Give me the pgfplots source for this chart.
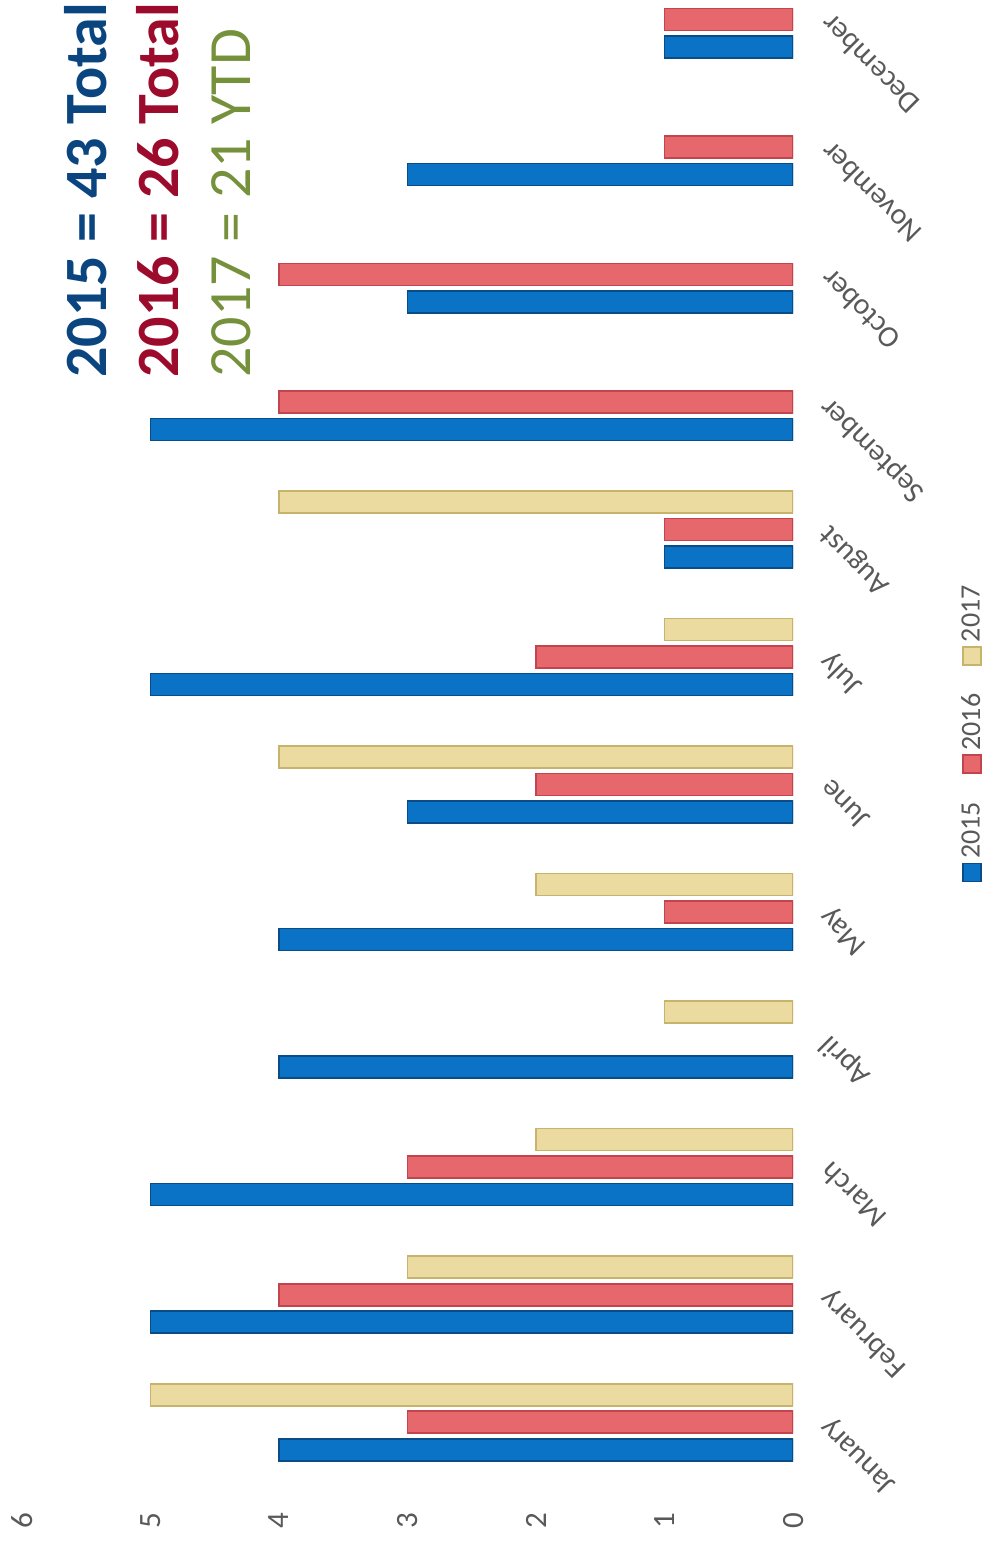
\documentclass[border=0pt]{standalone}
\usepackage{fontspec}
\setmainfont{Carlito}
\usepackage{pgfplots}
\pgfplotsset{compat=1.18}
\definecolor{c15}{HTML}{0B73C6}
\definecolor{c15e}{HTML}{0A4C88}
\definecolor{c16}{HTML}{E7686C}
\definecolor{c16e}{HTML}{C2444C}
\definecolor{c17}{HTML}{EBDBA1}
\definecolor{c17e}{HTML}{C8B36C}
\definecolor{t15}{HTML}{0B4580}
\definecolor{t16}{HTML}{9C0A2C}
\definecolor{t17}{HTML}{76913C}
\definecolor{lab}{HTML}{595959}
\begin{document}
\begin{tikzpicture}
\begin{axis}[
 xbar, scale only axis, width=385.5pt, height=742.9pt,
 x dir=reverse, xmin=0, xmax=6, ymin=-0.5, ymax=11.153,
 axis line style={draw=none}, major tick length=0pt,
 xtick={0,1,2,3,4,5,6},
 ytick={0,1,2,3,4,5,6,7,8,9,10,11},
 yticklabels={January,February,March,April,May,June,July,August,September,October,November,December},
 yticklabel pos=right,
 yticklabel style={xshift=16pt, rotate=135, anchor=east, inner sep=0pt, font=\fontsize{15}{17}\selectfont, text=lab},
 xticklabel style={yshift=-13pt, rotate=90, anchor=east, inner sep=0pt, font=\fontsize{15.5}{17}\selectfont, text=lab},
 /pgf/number format/assume math mode=true,
 bar width=11pt,
 legend columns=3,
 legend to name=yearlegend,
 legend style={draw=none, fill=none, font=\fontsize{14}{16}\selectfont, text=lab, /tikz/every even column/.append style={column sep=12pt}},
 legend image code/.code={\draw[#1, line width=0.8pt] (0pt,-4.5pt) rectangle (9pt,4.5pt);},
]
\addplot[fill=c15, draw=c15e, line width=0.8pt, bar shift=-13.75pt] coordinates {(4,0) (5,1) (5,2) (4,3) (4,4) (3,5) (5,6) (1,7) (5,8) (3,9) (3,10) (1,11)};
\addplot[fill=c16, draw=c16e, line width=0.8pt, bar shift=0pt] coordinates {(3,0) (4,1) (3,2) (1,4) (2,5) (2,6) (1,7) (4,8) (4,9) (1,10) (1,11)};
\addplot[fill=c17, draw=c17e, line width=0.8pt, bar shift=13.75pt] coordinates {(5,0) (3,1) (2,2) (1,3) (2,4) (4,5) (1,6) (4,7)};
\legend{2015,2016,2017}
\end{axis}
\node[rotate=90, anchor=center, inner sep=0pt] at (475pt,377pt) {\pgfplotslegendfromname{yearlegend}};
\node[rotate=90, anchor=base west, inner sep=0pt, text=t15, font=\bfseries\fontsize{30}{36}\selectfont] at (42pt,554pt) {2015 = 43 Total};
\node[rotate=90, anchor=base west, inner sep=0pt, text=t16, font=\bfseries\fontsize{30}{36}\selectfont] at (78pt,554pt) {2016 = 26 Total};
\node[rotate=90, anchor=base west, inner sep=0pt, text=t17, font=\fontsize{30}{36}\selectfont] at (114pt,554pt) {2017 = 21 YTD};
\pgfresetboundingbox
\path[use as bounding box] (-11pt,-28pt) rectangle (482.5pt,742.9pt);
\end{tikzpicture}
\end{document}
